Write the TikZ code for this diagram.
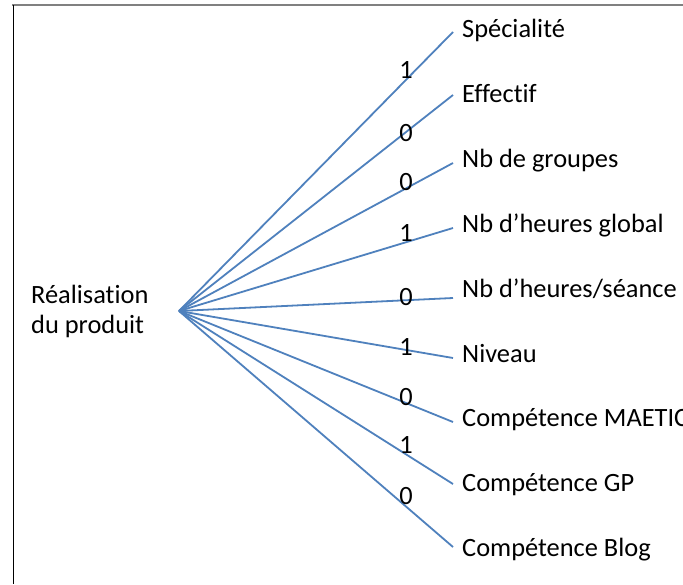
\documentclass[tikz,border=0pt]{standalone}
\usepackage{fontspec}
\setmainfont{Carlito}[Ligatures={NoCommon}]
\definecolor{branch}{HTML}{4F81BD}
\definecolor{framegray}{HTML}{808080}
\tikzset{
  leaf/.style={anchor=base west,inner sep=0pt,font=\fontsize{26.4}{30}\selectfont},
  digit/.style={anchor=center,inner sep=0pt,font=\fontsize{26.4}{30}\selectfont},
  branchline/.style={draw=branch,line width=1.8pt},
}
\begin{document}
\begin{tikzpicture}[x=1pt,y=-1pt]
\useasboundingbox (0,0) rectangle (683,584);
\clip (0,0) rectangle (683,584);
\fill[white] (0,0) rectangle (683,584);
\draw[framegray,line width=1.8pt] (12,5) -- (683,5);
\draw[black,line width=0.9pt] (13,5) -- (13,584);
\node[anchor=base west,inner sep=0pt,align=left,font=\fontsize{26.4}{30}\selectfont] (root) at (31,333) {Réalisation\\du produit};
\coordinate (o) at (179,311);
\foreach \i/\ey/\by/\txt/\d/\dy in {
  1/32/37/{Spécialité}/1/70,
  2/95/102/{Effectif}/0/133,
  3/163/167/{Nb de groupes}/0/182,
  4/228/232/{Nb d’heures global}/1/233,
  5/298/297/{Nb d’heures/séance}/0/297,
  6/358/362/{Niveau}/1/347,
  7/422/426/{Compétence MAETIC}/0/397,
  8/484/491/{Compétence GP}/1/445,
  9/547/556/{Compétence Blog}/0/496}{
  \coordinate (e\i) at (453,\ey);
  \node[leaf] (t\i) at (462,\by) {\txt};
  \draw[branchline] (o) -- (e\i);
  \node[digit] (d\i) at (406,\dy) {\d};
}
\end{tikzpicture}
\end{document}
